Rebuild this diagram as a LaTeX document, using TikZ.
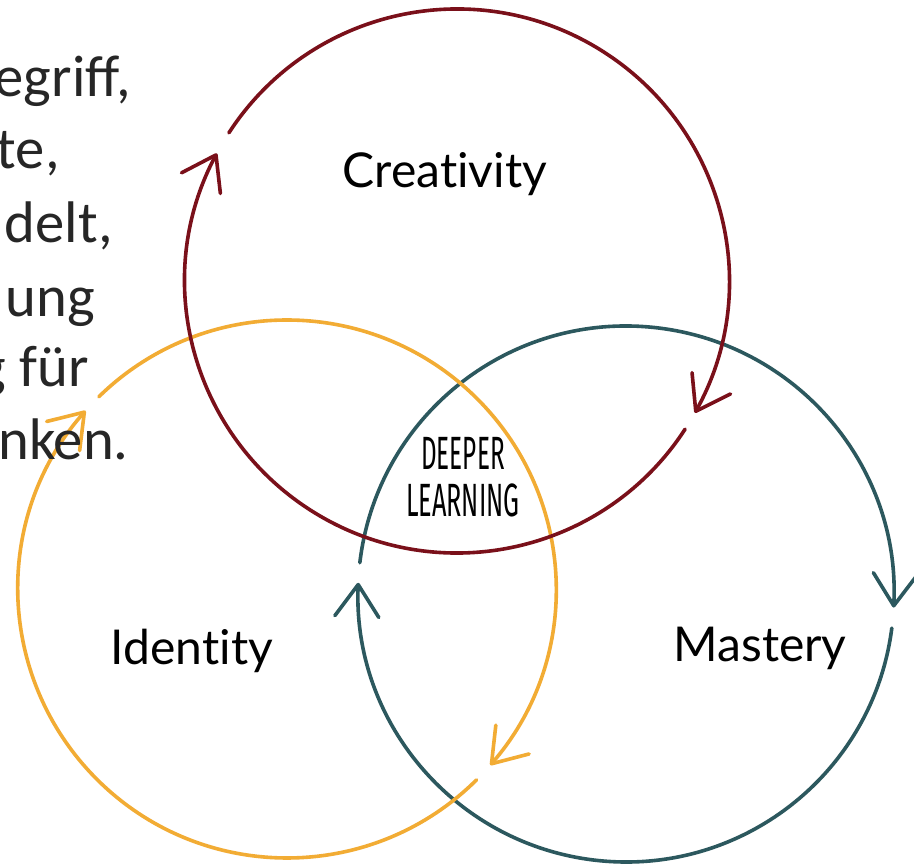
\documentclass[tikz,border=0pt]{standalone}
\usepackage{fontspec}
\setmainfont{Lato}[Ligatures=NoCommon]
\newfontfamily\slidefont{Carlito}
\newfontfamily\handfont{Fira Sans}
\usetikzlibrary{arrows.meta}
\definecolor{cred}{RGB}{122,16,26}
\definecolor{cyel}{RGB}{242,172,52}
\definecolor{cteal}{RGB}{44,88,94}
\tikzset{
  ring/.style={line width=2.7pt, line cap=round, -{Straight Barb[length=24pt,width=33pt,line cap=round,line join=round]}},
  label/.style={font=\fontsize{36}{40}\selectfont, anchor=base, inner sep=0pt},
  deep/.style={font=\handfont\fontsize{35}{38}\selectfont, anchor=base, inner sep=0pt},
  slide/.style={font=\slidefont\fontsize{44}{48}\selectfont, anchor=base east, inner sep=0pt, text=black!85}
}
\begin{document}
\begin{tikzpicture}[x=0.75pt,y=0.75pt]
\useasboundingbox[fill=white] (0,0) rectangle (914,864);
\coordinate (R) at (457,583);
\coordinate (Y) at (287,275);
\coordinate (T) at (626,270);
% teal
\draw[ring, cteal] (T) ++(173.3:268) arc[start angle=173.3, end angle=-2.9, radius=268];
\draw[ring, cteal] (T) ++(-7.3:268) arc[start angle=-7.3, end angle=-182.4, radius=268];
% yellow
\draw[ring, cyel] (Y) ++(134.4:269) arc[start angle=134.4, end angle=-40.9, radius=269];
\draw[ring, cyel] (Y) ++(-45.2:269) arc[start angle=-45.2, end angle=-221.5, radius=269];
% red
\draw[ring, cred] (R) ++(147:272) arc[start angle=147, end angle=-29, radius=272];
\draw[ring, cred] (R) ++(-33:272) arc[start angle=-33, end angle=-208, radius=272];
% labels
\node[label] (cr) at (445,676) {Creativity};
\node[label] (id) at (192,199) {Identity};
\node[label] (ma) at (760,202) {Mastery};
\node[deep] (d1) at (463,394) {\scalebox{0.52}[1]{DEEPER}};
\node[deep] (d2) at (463,347) {\scalebox{0.54}[1]{LEARNING}};
% slide text
\node[slide] (s1) at (131,767) {egriff,};
\node[slide] (s2) at (60,695) {te,};
\node[slide] (s3) at (113,621) {delt,};
\node[slide] (s4) at (95,547) {ung};
\node[slide] (s5) at (89,477) {g für};
\node[slide] (s6) at (129,404) {nken.};
\end{tikzpicture}
\end{document}
